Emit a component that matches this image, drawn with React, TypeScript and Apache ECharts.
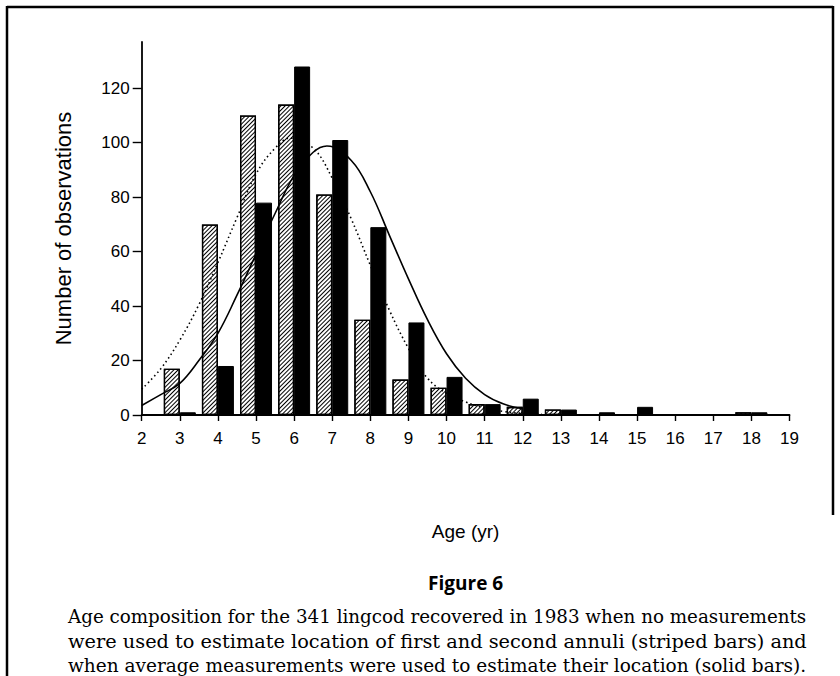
import React, { useEffect, useRef } from "react";
import * as echarts from "echarts";

// Age classes (yr)
const ages = [3, 4, 5, 6, 7, 8, 9, 10, 11, 12, 13, 14, 15, 16, 17, 18];
// Striped bars: no measurements used
const stripedCounts = [17, 70, 110, 114, 81, 35, 13, 10, 4, 3, 2, 0, 0, 0, 0, 1];
// Solid bars: average measurements used
const solidCounts = [1, 18, 78, 128, 101, 69, 34, 14, 4, 6, 2, 1, 3, 0, 0, 1];

// Fitted curve (dotted, striped bars)
const dottedFitAges = [2, 2.5, 3, 3.5, 4, 4.5, 5, 5.5, 5.9, 6.5, 7, 7.5, 8, 8.5, 9, 9.5, 10, 10.5, 11, 11.5, 12, 12.5];
const dottedFitValues = [9.5, 17, 27.5, 40.5, 56, 72.5, 88.5, 98, 101.7, 98, 87, 72, 55, 38.5, 24.5, 13.5, 8, 4.8, 2.6, 1.3, 0.6, 0.3];
// Fitted curve (solid, solid bars)
const solidFitAges = [2, 2.5, 3, 3.5, 4, 4.5, 5, 5.5, 6, 6.5, 6.86, 7.5, 8, 8.5, 9, 9.5, 10, 10.5, 11, 11.5, 12];
const solidFitValues = [3.5, 7.5, 11.6, 20, 30, 44, 59, 74, 88, 96.5, 98.8, 93.5, 82, 66, 50, 35, 22.5, 13.5, 7.5, 4, 2.3];

const yTickValues = [0, 20, 40, 60, 80, 100, 120];

const yAxisTitle = "Number of observations";
const xAxisTitle = "Age (yr)";
const figureTitle = "Figure 6";
const captionLines = [
  "Age composition for the 341 lingcod recovered in 1983 when no measurements",
  "were used to estimate location of first and second annuli (striped bars) and",
  "when average measurements were used to estimate their location (solid bars).",
];

const SANS = "'Liberation Sans', Arial, sans-serif";
const SERIF = "'DejaVu Serif', serif";

export default function App() {
  const ref = useRef<HTMLDivElement | null>(null);

  useEffect(() => {
    if (!ref.current) return;
    const chart = echarts.init(ref.current, undefined, { renderer: "svg" });

    // Measure caption lines to justify them to the same width
    const capLeft = 68;
    const capRight = 806;
    const capWidth = capRight - capLeft;
    const cnv = document.createElement("canvas");
    const ctx = cnv.getContext("2d") as CanvasRenderingContext2D;
    ctx.font = `100px ${SERIF}`;
    const w3 = ctx.measureText(captionLines[2]).width;
    const capFont = Math.min(19, (100 * capWidth) / w3);
    ctx.font = `${capFont}px ${SERIF}`;
    const capYs = [616, 641, 666];
    const captionGraphics = captionLines.map((t, i) => {
      const w = ctx.measureText(t).width;
      return {
        type: "text",
        x: capLeft,
        y: capYs[i],
        scaleX: capWidth / w,
        scaleY: 1,
        style: {
          text: t,
          font: `${capFont}px ${SERIF}`,
          fill: "#000",
          textAlign: "left",
          textVerticalAlign: "middle",
        },
      };
    });

    const option: any = {
      animation: false,
      backgroundColor: "#fff",
      grid: { left: 141.7, right: 50.5, top: 42, bottom: 261, containLabel: false },
      xAxis: {
        type: "value",
        min: 2,
        max: 19,
        interval: 1,
        axisLine: { show: true, lineStyle: { color: "#000", width: 1.8 } },
        axisTick: { show: true, inside: false, length: 6, lineStyle: { color: "#000", width: 1.4 } },
        axisLabel: { color: "#000", fontSize: 17, fontFamily: SANS, margin: 15 },
        splitLine: { show: false },
      },
      yAxis: {
        type: "value",
        min: 0,
        max: 137,
        interval: 20,
        axisLine: { show: true, lineStyle: { color: "#000", width: 1.8 } },
        axisTick: {
          show: true,
          inside: false,
          length: 9,
          customValues: yTickValues,
          lineStyle: { color: "#000", width: 1.4 },
        },
        axisLabel: {
          color: "#000",
          fontSize: 17,
          fontFamily: SANS,
          margin: 12,
          customValues: yTickValues,
        },
        splitLine: { show: false },
      },
      series: [
        {
          name: "striped",
          type: "bar",
          barWidth: 16,
          barGap: "0%",
          data: ages.map((a, i) => [a, stripedCounts[i]]),
          itemStyle: {
            color: "#fff",
            borderColor: "#000",
            borderWidth: 1.3,
            decal: {
              symbol: "rect",
              symbolSize: 1,
              color: "#000",
              dashArrayX: [1, 0],
              dashArrayY: [1, 1.7],
              rotation: -Math.PI / 4,
            },
          },
          z: 2,
        },
        {
          name: "solid",
          type: "bar",
          barWidth: 16,
          barGap: "0%",
          data: ages.map((a, i) => [a, solidCounts[i]]),
          itemStyle: { color: "#000", borderColor: "#000", borderWidth: 1 },
          z: 2,
        },
        {
          name: "dotted fit",
          type: "line",
          smooth: 0.4,
          showSymbol: false,
          symbol: "none",
          data: dottedFitAges.map((a, i) => [a, dottedFitValues[i]]),
          lineStyle: { color: "#000", width: 1.6, type: [1.5, 3] },
          z: 5,
        },
        {
          name: "solid fit",
          type: "line",
          smooth: 0.4,
          showSymbol: false,
          symbol: "none",
          data: solidFitAges.map((a, i) => [a, solidFitValues[i]]),
          lineStyle: { color: "#000", width: 1.6, type: "solid" },
          z: 5,
        },
      ],
      graphic: [
        { type: "line", shape: { x1: 7, y1: 7, x2: 833, y2: 7 }, style: { stroke: "#000", lineWidth: 2.5 } },
        { type: "line", shape: { x1: 7, y1: 6, x2: 7, y2: 676 }, style: { stroke: "#000", lineWidth: 2.5 } },
        { type: "line", shape: { x1: 833, y1: 6, x2: 833, y2: 515 }, style: { stroke: "#000", lineWidth: 2.5 } },
        {
          type: "text",
          x: 63,
          y: 228.5,
          rotation: Math.PI / 2,
          style: {
            text: yAxisTitle,
            font: `22px ${SANS}`,
            fill: "#000",
            textAlign: "center",
            textVerticalAlign: "middle",
          },
        },
        {
          type: "text",
          x: 465.6,
          y: 531,
          style: {
            text: xAxisTitle,
            font: `19px ${SANS}`,
            fill: "#000",
            textAlign: "center",
            textVerticalAlign: "middle",
          },
        },
        {
          type: "text",
          x: 465.6,
          y: 583,
          style: {
            text: figureTitle,
            font: `bold 19px 'Open Sans', sans-serif`,
            fill: "#000",
            textAlign: "center",
            textVerticalAlign: "middle",
          },
        },
        ...captionGraphics,
      ],
    };

    chart.setOption(option);
    return () => {
      chart.dispose();
    };
  }, []);

  return (
    <div
      ref={ref}
      style={{ position: "fixed", left: 0, top: 0, width: 840, height: 676, background: "#fff" }}
    />
  );
}
